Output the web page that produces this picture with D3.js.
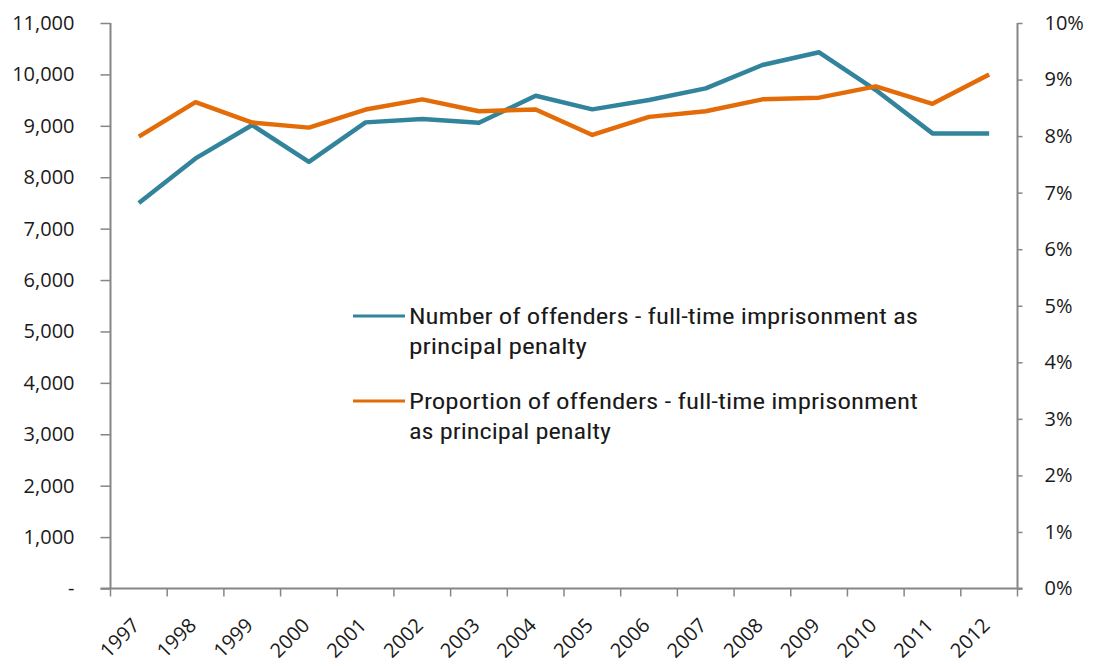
<!DOCTYPE html>
<html><head><meta charset="utf-8">
<script src="https://cdn.jsdelivr.net/npm/d3@7"></script>
<style>body{margin:0;background:#fff}svg{display:block}</style>
</head><body>
<svg id="chart" width="1096" height="666"></svg>
<script>
const years = ["1997","1998","1999","2000","2001","2002","2003","2004","2005","2006","2007","2008","2009","2010","2011","2012"];
const offenders = [7500,8366,9015,8300,9067,9132,9060,9585,9320,9502,9729,10183,10430,9696,8853,8853];
const proportion = [0.0799,0.0860,0.0824,0.0815,0.0847,0.0865,0.0844,0.0847,0.0802,0.0834,0.0844,0.0865,0.0868,0.0888,0.0857,0.0909];
const leftTicks = [0,1000,2000,3000,4000,5000,6000,7000,8000,9000,10000,11000];
const rightTicks = [0,0.01,0.02,0.03,0.04,0.05,0.06,0.07,0.08,0.09,0.10];
const seriesNames = [
  ["Number of offenders - full-time imprisonment as","principal penalty"],
  ["Proportion of offenders - full-time imprisonment","as principal penalty"]
];
const colors = ["#31849B","#E36C09"];

const svg = d3.select("#chart");
const L = 110.5, R = 1017.5, T = 23, B = 588.5;
const x = d3.scaleBand().domain(years).range([L, R]);
const yL = d3.scaleLinear().domain([0,11000]).range([B, T]);
const yR = d3.scaleLinear().domain([0,0.10]).range([B, T]);
const axisColor = "#868686";
const tickFont = "'Open Sans', 'Noto Sans', sans-serif";

// Left axis
const gL = svg.append("g").attr("transform",`translate(${L},0)`)
  .call(d3.axisLeft(yL).tickValues(leftTicks).tickSizeOuter(0).tickSize(10).tickPadding(26)
    .tickFormat(d => d === 0 ? "-" : d3.format(",")(d)));
// Right axis
const gR = svg.append("g").attr("transform",`translate(${R},0)`)
  .call(d3.axisRight(yR).tickValues(rightTicks).tickSizeOuter(0).tickSize(5).tickPadding(22)
    .tickFormat(d3.format(".0%")));
// Bottom axis
const gB = svg.append("g").attr("transform",`translate(0,${B})`)
  .call(d3.axisBottom(x).tickSizeOuter(0).tickSize(8).tickValues([]));
// band-edge ticks
gB.selectAll("line.edge").data(d3.range(years.length+1)).enter().append("line")
  .attr("class","edge")
  .attr("x1", i => L + i*x.step()).attr("x2", i => L + i*x.step())
  .attr("y1", 0).attr("y2", 8);
gB.selectAll("text.yr").data(years).enter().append("text")
  .attr("class","yr")
  .attr("transform", d => `translate(${x(d)+x.bandwidth()/2-8},${28}) rotate(-45)`)
  .attr("text-anchor","end")
  .attr("dy","0.71em")
  .text(d => d);

[gL,gR,gB].forEach(g => {
  g.selectAll("path.domain").attr("stroke",axisColor).attr("stroke-width",2);
  g.selectAll("line").attr("stroke",axisColor).attr("stroke-width",1.5);
  g.selectAll("text").attr("font-family",tickFont).attr("font-size",20).attr("fill","#1a1a1a");
});
gL.select(".domain").attr("d", `M0,${T}V${B}`);
gR.select(".domain").attr("d", `M0,${T}V${B}`);
gB.select(".domain").attr("d", `M${L-10},0H${R+5}`);

const cx = d => x(d) + x.bandwidth()/2;
const lineL = d3.line().x((d,i) => cx(years[i])).y(d => yL(d));
const lineR = d3.line().x((d,i) => cx(years[i])).y(d => yR(d));

svg.append("path").datum(offenders).attr("d", lineL)
  .attr("fill","none").attr("stroke",colors[0]).attr("stroke-width",4.5).attr("stroke-linejoin","round");
svg.append("path").datum(proportion).attr("d", lineR)
  .attr("fill","none").attr("stroke",colors[1]).attr("stroke-width",4.5).attr("stroke-linejoin","round");

// Legend
const legFont = "'Liberation Sans Narrow', 'Roboto Condensed', Roboto, sans-serif";
const legY = [316, 401];
const legWidths = [[509,178],[509,202]];
seriesNames.forEach((lines, i) => {
  const g = svg.append("g");
  g.append("line").attr("x1",353).attr("x2",405).attr("y1",legY[i]).attr("y2",legY[i])
    .attr("stroke",colors[i]).attr("stroke-width",3);
  lines.forEach((t, j) => {
    g.append("text").attr("x",409).attr("y",legY[i] + j*30).attr("dy","0.35em")
      .attr("font-family",legFont).attr("font-size",22).attr("fill","#1a1a1a")
      .attr("textLength", legWidths[i][j]).attr("lengthAdjust","spacingAndGlyphs")
      .text(t);
  });
});
</script>
</body></html>
